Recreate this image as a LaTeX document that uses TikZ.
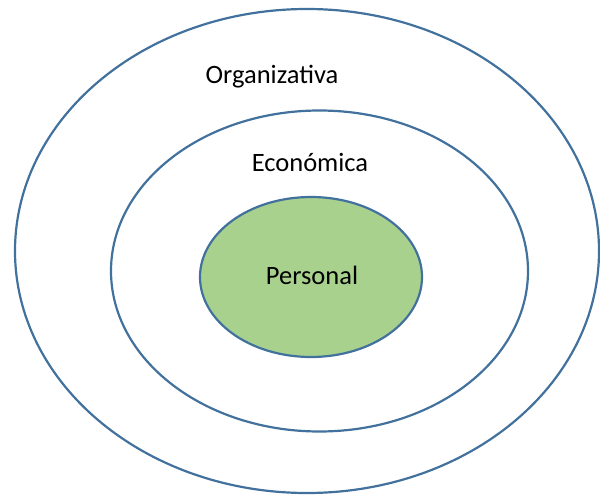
\documentclass[tikz,border=0pt]{standalone}
\usepackage{fontspec}
\setmainfont{Carlito}
\definecolor{ringblue}{HTML}{41719C}
\definecolor{ringgreen}{HTML}{A9D18E}
\begin{document}
\begin{tikzpicture}[x=1pt,y=-1pt,
  ring/.style={draw=ringblue,line width=2.2pt},
  lbl/.style={font=\fontsize{26.5}{30}\selectfont,text=black,inner sep=0pt}]
\useasboundingbox (0,0) rectangle (600,495);
\draw[ring] (307,251) ellipse [x radius=292, y radius=242];
\draw[ring] (319.5,271) ellipse [x radius=208.5, y radius=160.5];
\draw[ring,fill=ringgreen] (311,277) ellipse [x radius=111, y radius=80];
\node[lbl] (org) at (272,77) {Organizativa};
\node[lbl] (eco) at (310,162) {Económica};
\node[lbl] (per) at (312,275) {Personal};
\end{tikzpicture}
\end{document}
